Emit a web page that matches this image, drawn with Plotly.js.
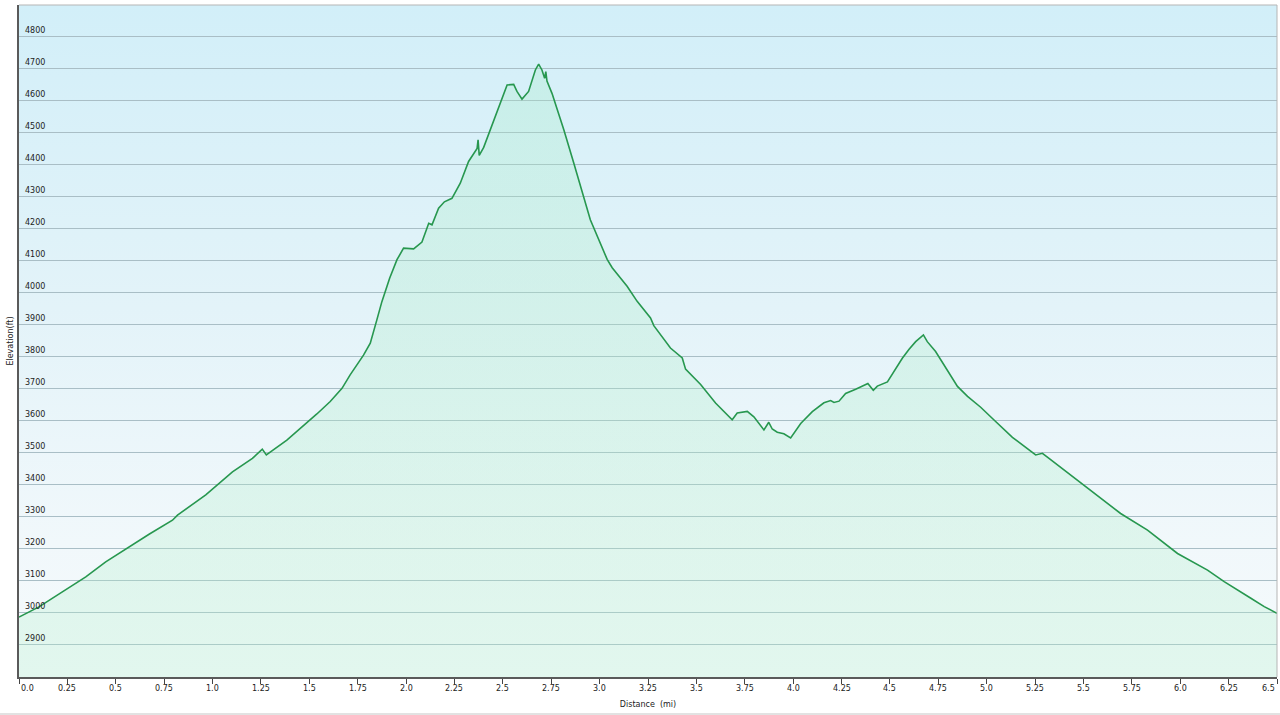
<!DOCTYPE html>
<html>
<head>
<meta charset="utf-8">
<script src="https://cdn.plot.ly/plotly-3.0.1.min.js"></script>
<style>
  html, body { margin: 0; padding: 0; background: #ffffff; }
  #wrap { position: relative; width: 1280px; height: 715px; }
  #bg { position: absolute; left: 19px; top: 5px; width: 1258px; height: 672px;
        background: linear-gradient(to bottom, #d2eff9 0%, #e3f3f9 45%, #f1f8fb 80%, #f5fafc 100%); }
  #chart { position: absolute; left: 0; top: 0; width: 1280px; height: 715px; }
  #foot { position: absolute; left: 0; top: 713px; width: 1280px; height: 2px; background: #e2e2e2; }
</style>
</head>
<body>
<div id="wrap">
  <div id="bg"></div>
  <div id="chart"></div>
  <div id="foot"></div>
</div>
<script>
// Distance (mi)
const distance = [
  0.000, 0.069, 0.103, 0.224, 0.345, 0.448, 0.569, 0.672, 0.793, 0.819,
  0.965, 1.034, 1.103, 1.206, 1.257, 1.278, 1.384, 1.539, 1.608, 1.669,
  1.711, 1.780, 1.815, 1.849, 1.875, 1.901, 1.915, 1.953, 1.987, 2.039,
  2.082, 2.117, 2.134, 2.168, 2.198, 2.237, 2.280, 2.323, 2.367, 2.372,
  2.378, 2.401, 2.435, 2.478, 2.522, 2.556, 2.573, 2.599, 2.633, 2.668,
  2.685, 2.702, 2.716, 2.722, 2.728, 2.754, 2.780, 2.815, 2.866, 2.901,
  2.952, 3.039, 3.065, 3.142, 3.194, 3.263, 3.280, 3.366, 3.427, 3.444,
  3.522, 3.599, 3.685, 3.711, 3.763, 3.797, 3.823, 3.849, 3.874, 3.892,
  3.918, 3.952, 3.987, 4.039, 4.099, 4.159, 4.194, 4.211, 4.237, 4.271,
  4.323, 4.386, 4.414, 4.435, 4.487, 4.521, 4.564, 4.599, 4.633, 4.673,
  4.693, 4.736, 4.797, 4.849, 4.901, 4.969, 5.038, 5.133, 5.253, 5.288,
  5.322, 5.460, 5.589, 5.692, 5.831, 5.986, 6.141, 6.227, 6.365, 6.434,
  6.500
];
// Elevation (ft)
const elevation = [
  2985, 3007, 3017, 3064, 3111, 3158, 3205, 3244, 3288, 3304,
  3367, 3403, 3439, 3481, 3510, 3492, 3538, 3620, 3659, 3700,
  3742, 3804, 3841, 3914, 3971, 4018, 4044, 4102, 4138, 4136,
  4157, 4216, 4211, 4263, 4283, 4294, 4341, 4409, 4450, 4477,
  4428, 4453, 4508, 4576, 4648, 4650, 4628, 4604, 4628, 4695,
  4713, 4695, 4669, 4690, 4660, 4622, 4576, 4508, 4405, 4332,
  4227, 4103, 4077, 4019, 3972, 3920, 3896, 3826, 3795, 3760,
  3712, 3654, 3602, 3623, 3628, 3611, 3590, 3570, 3594, 3573,
  3563, 3558, 3545, 3590, 3627, 3655, 3662, 3656, 3660, 3684,
  3697, 3715, 3694, 3707, 3720, 3752, 3794, 3822, 3846, 3867,
  3846, 3815, 3758, 3706, 3675, 3641, 3601, 3547, 3492, 3497,
  3481, 3417, 3356, 3309, 3257, 3184, 3132, 3096, 3044, 3018,
  2997
];
// Axis ticks
const xTickVals = [0, 0.25, 0.5, 0.75, 1.0, 1.25, 1.5, 1.75, 2.0, 2.25, 2.5, 2.75, 3.0, 3.25, 3.5, 3.75, 4.0, 4.25, 4.5, 4.75, 5.0, 5.25, 5.5, 5.75, 6.0, 6.25, 6.5];
const xTickText = ["0.0", "0.25", "0.5", "0.75", "1.0", "1.25", "1.5", "1.75", "2.0", "2.25", "2.5", "2.75", "3.0", "3.25", "3.5", "3.75", "4.0", "4.25", "4.5", "4.75", "5.0", "5.25", "5.5", "5.75", "6.0", "6.25", "6.5"];
const yTickVals = [2900, 3000, 3100, 3200, 3300, 3400, 3500, 3600, 3700, 3800, 3900, 4000, 4100, 4200, 4300, 4400, 4500, 4600, 4700, 4800];

const FONT = "DejaVu Sans, Verdana, sans-serif";
const TXT = { family: FONT, size: 8, color: "#222" };

const trace = {
  x: distance,
  y: elevation,
  type: "scatter",
  mode: "lines",
  line: { color: "#27974f", width: 1.6 },
  fill: "tozeroy",
  fillgradient: {
    type: "vertical",
    colorscale: [
      [0, "rgba(200,245,215,0.30)"],
      [1, "rgba(165,235,195,0.28)"]
    ]
  },
  hoverinfo: "x+y"
};

// y tick labels drawn inside the plot, just above each gridline
const yLabels = yTickVals.map(v => ({
  xref: "paper", yref: "y", x: 0, y: v,
  text: String(v), showarrow: false,
  xanchor: "left", yanchor: "bottom",
  xshift: 4, yshift: -1,
  font: TXT
}));

// x tick labels; end labels kept inside the plot width
const xLabels = xTickVals.map((v, i) => ({
  xref: "x", yref: "paper", x: v, y: 0,
  text: xTickText[i], showarrow: false,
  xanchor: i === 0 ? "left" : (i === xTickVals.length - 1 ? "right" : "center"),
  yanchor: "top",
  yshift: -5,
  font: TXT
}));

const layout = {
  width: 1280,
  height: 715,
  margin: { l: 19, r: 3, t: 5, b: 38 },
  paper_bgcolor: "rgba(0,0,0,0)",
  plot_bgcolor: "rgba(0,0,0,0)",
  showlegend: false,
  font: TXT,
  xaxis: {
    range: [0, 6.5],
    tickmode: "array",
    tickvals: xTickVals,
    showticklabels: false,
    showgrid: false,
    zeroline: false,
    showline: true,
    linecolor: "#5a5a5a",
    linewidth: 2,
    ticks: "outside",
    ticklen: 5,
    tickcolor: "#444",
    tickwidth: 1,
    title: { text: "Distance  (mi)", font: TXT, standoff: 18 }
  },
  yaxis: {
    range: [2798, 4898],
    tickmode: "array",
    tickvals: yTickVals,
    showticklabels: false,
    showgrid: true,
    gridcolor: "#a9bec6",
    gridwidth: 1,
    zeroline: false,
    showline: true,
    linecolor: "#5a5a5a",
    linewidth: 2,
    ticks: "",
    title: { text: "Elevation(ft)", font: TXT, standoff: 2 }
  },
  annotations: yLabels.concat(xLabels),
  shapes: [
    { type: "line", xref: "paper", yref: "paper", x0: 0, x1: 1, y0: 1, y1: 1, line: { color: "#b5b5b5", width: 1 } },
    { type: "line", xref: "paper", yref: "paper", x0: 1, x1: 1, y0: 0, y1: 1, line: { color: "#b5b5b5", width: 1 } }
  ]
};

Plotly.newPlot("chart", [trace], layout, { displayModeBar: false, staticPlot: true });
</script>
</body>
</html>
